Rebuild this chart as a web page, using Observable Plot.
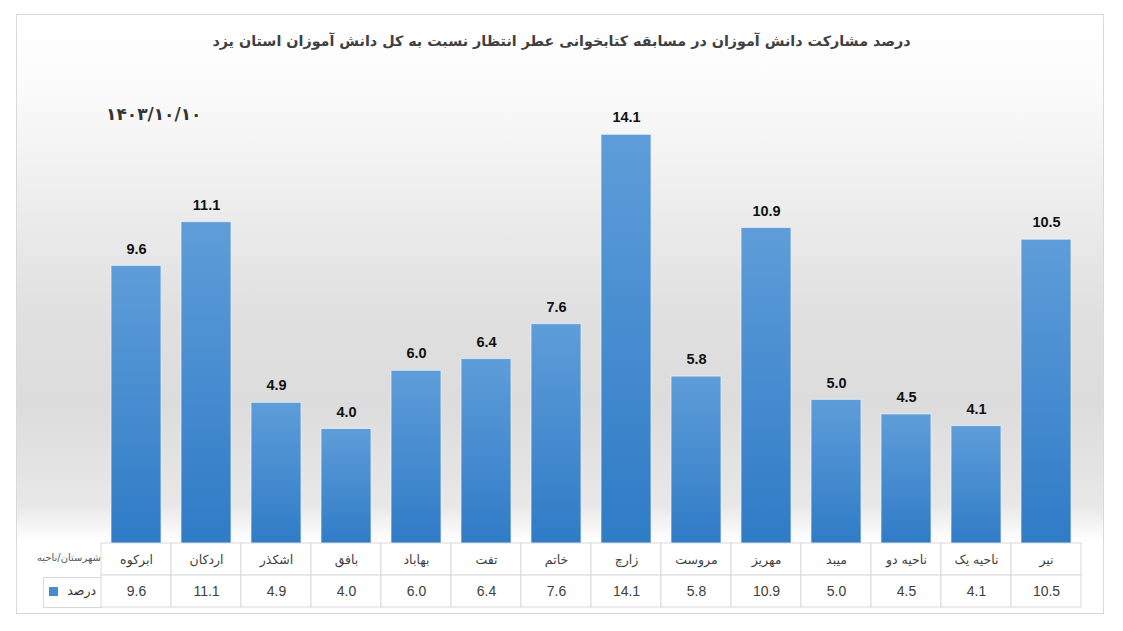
<!DOCTYPE html>
<html>
<head>
<meta charset="utf-8">
<script src="https://cdn.jsdelivr.net/npm/d3@7"></script>
<script src="https://cdn.jsdelivr.net/npm/@observablehq/plot@0.6"></script>
<style>
  html, body { margin: 0; padding: 0; background: #ffffff; width: 1123px; height: 631px; overflow: hidden; }
  #frame { position: absolute; left: 16px; top: 14px; width: 1086px; height: 598px; border: 1px solid #d9d9d9;
    background: linear-gradient(to bottom, #ffffff 0%, #fbfbfb 12%, #eeeeee 30%, #e0e0e0 50%, #dcdcdc 65%, #e8e8e8 82%, #ffffff 88%, #ffffff 100%); }
  #title { position: absolute; left: 0; width: 1123px; top: 33px; text-align: center; font-family: "DejaVu Sans", sans-serif;
    font-weight: bold; font-size: 14.3px; color: #404040; direction: rtl; }
  #date { position: absolute; left: 106px; top: 104px; font-family: "DejaVu Sans", sans-serif; font-weight: bold;
    font-size: 17px; color: #333333; }
  #bars { position: absolute; left: 0; top: 0; }
  #table { position: absolute; left: 0; top: 543px; }
  #hdr { position: absolute; right: calc(1123px - 101px); top: 552px; font-family: "DejaVu Sans", sans-serif; font-size: 10px; color: #595959; direction: rtl; white-space: nowrap; }
  #leg { position: absolute; left: 43px; top: 577px; width: 58px; height: 29px; border: 1px solid #d9d9d9; border-right: none; background: #ffffff; }
  #leg .sq { position: absolute; left: 5px; top: 9px; width: 9px; height: 9px; background: #4a8ad0; }
  #leg .tx { position: absolute; right: 6px; top: 5px; font-family: "DejaVu Sans", sans-serif; font-size: 12.5px; color: #333; direction: rtl; }
</style>
</head>
<body>
<div id="frame"></div>
<div id="title">درصد مشارکت دانش آموزان در مسابقه کتابخوانی عطر انتظار نسبت به کل دانش آموزان استان یزد</div>
<div id="date">۱۴۰۳/۱۰/۱۰</div>
<div id="bars"></div>
<div id="hdr">شهرستان/ناحیه</div>
<div id="leg"><div class="sq"></div><div class="tx">درصد</div></div>
<div id="table"></div>
<script>
const categories = ["ابرکوه", "اردکان", "اشکذر", "بافق", "بهاباد", "تفت", "خاتم", "زارچ", "مروست", "مهریز", "میبد", "ناحیه دو", "ناحیه یک", "نیر"];
const values = [9.6, 11.1, 4.9, 4.0, 6.0, 6.4, 7.6, 14.1, 5.8, 10.9, 5.0, 4.5, 4.1, 10.5];
const seriesName = "درصد";

const data = categories.map((c, i) => ({cat: c, value: values[i]}));

const chart = Plot.plot({
  width: 1123,
  height: 545,
  marginLeft: 99,
  marginRight: 40,
  marginTop: 79,
  marginBottom: 0,
  style: {background: "transparent", overflow: "visible"},
  x: {domain: categories, paddingInner: 0.29, paddingOuter: 0.145, axis: null},
  y: {domain: [0, 16], axis: null},
  marks: [
    Plot.barY(data, {x: "cat", y: "value", fill: "url(#barGrad)", stroke: "#eef4fa", strokeWidth: 1, strokeOpacity: 0.7}),
    Plot.text(data, {x: "cat", y: "value", text: d => d.value.toFixed(1), dy: -17, fontWeight: "bold",
      fontSize: 14.5, fill: "#111111", fontFamily: "Liberation Sans, Arial, sans-serif"})
  ]
});
const svg = d3.select(chart);
const defs = svg.insert("defs", ":first-child");
const g = defs.append("linearGradient").attr("id", "barGrad").attr("x1", 0).attr("y1", 0).attr("x2", 0).attr("y2", 1);
g.append("stop").attr("offset", "0%").attr("stop-color", "#5e9dd9");
g.append("stop").attr("offset", "100%").attr("stop-color", "#2f7bc6");
document.getElementById("bars").appendChild(chart);

const rows = [];
categories.forEach((c, i) => {
  rows.push({cat: c, row: "name", label: c});
  rows.push({cat: c, row: "value", label: values[i].toFixed(1)});
});

const table = Plot.plot({
  width: 1123,
  height: 66,
  marginLeft: 99,
  marginRight: 40,
  marginTop: 0,
  marginBottom: 2,
  style: {background: "transparent", overflow: "visible"},
  x: {domain: categories, padding: 0, axis: null},
  y: {domain: ["name", "value"], padding: 0, axis: null},
  marks: [
    Plot.cell(rows, {x: "cat", y: "row", fill: "#ffffff", stroke: "#d9d9d9", strokeWidth: 1}),
    Plot.text(rows.filter(d => d.row === "name"), {x: "cat", y: "row", text: "label", fontSize: 12.5,
      fill: "#404040", fontFamily: "DejaVu Sans, sans-serif"}),
    Plot.text(rows.filter(d => d.row === "value"), {x: "cat", y: "row", text: "label", fontSize: 14,
      fill: "#404040", fontFamily: "Liberation Sans, Arial, sans-serif"})
  ]
});
document.getElementById("table").appendChild(table);
</script>
</body>
</html>
